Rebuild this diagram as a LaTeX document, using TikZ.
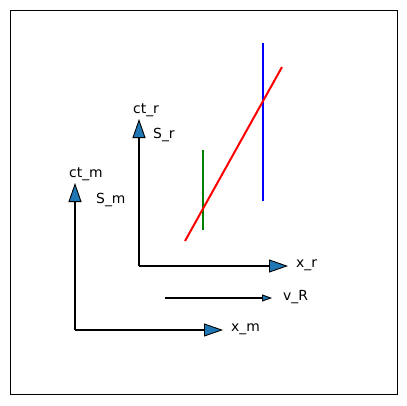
\documentclass[tikz,border=0pt]{standalone}
\usepackage{fontspec}
\setmainfont{DejaVu Sans}
\usetikzlibrary{arrows.meta,positioning}
\definecolor{mplblue}{HTML}{1F77B4}
\definecolor{mplgreen}{HTML}{008000}

\begin{document}
\begin{tikzpicture}[x=1pt, y=-1pt,
	axis/.style={line width=1.4pt, -{Triangle[length=19pt, width=13pt, fill=mplblue, line width=0.9pt]}},
	vel/.style={line width=1.4pt, -{Triangle[length=10pt, width=7pt, fill=mplblue, line width=0.9pt]}},
	lbl/.style={font=\fontsize{13.9}{16}\selectfont, inner sep=0pt, anchor=west},
	wline/.style={line width=2pt}]
	\useasboundingbox (0,0) rectangle (407,405);
	\draw[line width=0.9pt] (10,10) rectangle (397,394);

	% frame S_m
	\coordinate (om) at (75,330);
	\coordinate (xm) at (223,330);
	\coordinate (ctm) at (75,183);
	\draw[axis] (om) -- (xm);
	\draw[axis] (om) -- (ctm);
	\node[lbl] (labxm) at (231,329) {x\_m};
	\node[lbl] (labctm) at (69,174) {ct\_m};
	\node[lbl] (labsm) at (96,200) {S\_m};

	% frame S_r
	\coordinate (or) at (139,266);
	\coordinate (xr) at (288,266);
	\coordinate (ctr) at (139,119);
	\draw[axis] (or) -- (xr);
	\draw[axis] (or) -- (ctr);
	\node[lbl] (labxr) at (296,265) {x\_r};
	\node[lbl] (labctr) at (133,110) {ct\_r};
	\node[lbl] (labsr) at (153,135) {S\_r};

	% velocity
	\coordinate (v0) at (165,298);
	\coordinate (v1) at (272,298);
	\draw[vel] (v0) -- (v1);
	\node[lbl] (labv) at (283,297) {v\_R};

	% world lines
	\coordinate (g0) at (203,230);
	\coordinate (g1) at (203,150);
	\coordinate (b0) at (263,201);
	\coordinate (b1) at (263,43);
	\coordinate (r0) at (185,241);
	\coordinate (r1) at (282,67);
	\draw[wline, mplgreen] (g0) -- (g1);
	\draw[wline, blue] (b0) -- (b1);
	\draw[wline, red] (r0) -- (r1);
\end{tikzpicture}
\end{document}
